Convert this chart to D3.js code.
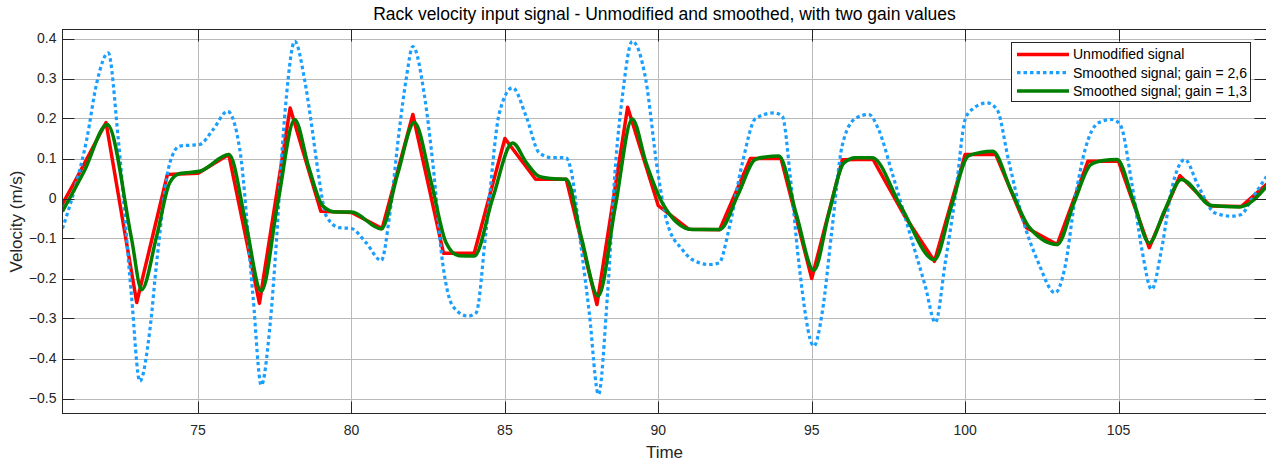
<!DOCTYPE html>
<html>
<head>
<meta charset="utf-8">
<script src="https://cdn.jsdelivr.net/npm/d3@7"></script>
<style>
  html, body { margin: 0; padding: 0; background: #fff; }
  svg { display: block; font-family: "Liberation Sans", Arial, Helvetica, sans-serif; }
</style>
</head>
<body>
<div id="chart"></div>
<script>
// unmodified signal, one sample per second
var rawTime = [70, 71, 72, 73, 74, 75, 76, 77, 78, 79, 80, 81, 82, 83, 84, 85, 86, 87, 88, 89, 90,
               91, 92, 93, 94, 95, 96, 97, 98, 99, 100, 101, 102, 103, 104, 105, 106, 107, 108, 109, 110];
var rawValue = [-0.095, 0.045, 0.19, -0.26, 0.06, 0.063, 0.11, -0.262, 0.226, -0.032, -0.035, -0.075, 0.21,
                -0.137, -0.137, 0.15, 0.048, 0.048, -0.265, 0.228, -0.018, -0.077, -0.078, 0.1, 0.1, -0.2,
                0.097, 0.098, -0.04, -0.157, 0.11, 0.11, -0.073, -0.115, 0.093, 0.093, -0.123, 0.057,
                -0.019, -0.02, 0.047];

// smoothed, gain = 1,3
var smoothLoTime = [70.58, 71.3, 72.04, 72.83, 73.16, 73.65, 74.08, 74.4, 75.05, 76.01, 76.55, 77.06, 77.6,
                    78.15, 78.6, 79.07, 79.5, 80, 80.97, 81.5, 82.05, 82.6, 83.08, 83.5, 84, 84.6, 85.25,
                    85.7, 86.1, 86.5, 87, 87.5, 88.04, 88.6, 89.15, 89.6, 90.13, 91.1, 92, 92.6, 93.16,
                    93.5, 93.93, 94.5, 95.07, 95.55, 96.05, 96.43, 96.97, 97.9, 99.0, 99.55, 100.1, 100.5,
                    100.9, 101.5, 102.1, 103.0, 103.55, 104.1, 104.5, 104.95, 105.5, 106.0, 106.5, 107.05,
                    108.03, 108.95, 109.82];
var smoothLoValue = [-0.032, 0.07, 0.185, -0.1, -0.228, -0.094, 0.04, 0.0625, 0.068, 0.11, -0.06, -0.232,
                     -0.01, 0.1975, 0.08, -0.019, -0.034, -0.034, -0.076, 0.06, 0.19, 0.04, -0.11, -0.143,
                     -0.144, 0.0, 0.139, 0.09, 0.056, 0.05, 0.048, -0.1, -0.244, -0.02, 0.199, 0.09,
                     -0.011, -0.0775, -0.0775, 0.01, 0.0975, 0.104, 0.106, -0.04, -0.18, -0.04, 0.089,
                     0.102, 0.102, -0.019, -0.153, -0.02, 0.106, 0.115, 0.118, 0.02, -0.073, -0.115,
                     -0.01, 0.085, 0.095, 0.0975, -0.01, -0.111, -0.03, 0.0475, -0.0175, -0.021, 0.03];

// smoothed, gain = 2,6
var smoothHiTime = [70.58, 71.0, 71.37, 71.7, 72.07, 72.4, 72.83, 73.1, 73.43, 73.65, 74.08, 74.4, 75.05,
                    75.49, 75.96, 76.36, 76.79, 77.06, 77.33, 77.55, 77.71, 77.88, 78.15, 78.47, 78.69,
                    78.9, 79.18, 79.61, 79.99, 80.48, 80.97, 81.24, 81.56, 81.78, 82.0, 82.38, 82.65,
                    82.97, 83.3, 83.79, 84.06, 84.39, 84.82, 85.25, 85.69, 86.12, 86.55, 86.99, 87.15,
                    87.48, 87.75, 88.05, 88.34, 88.61, 88.83, 89.15, 89.59, 89.97, 90.29, 90.78, 91.1,
                    91.65, 91.98, 92.3, 92.74, 93.17, 93.77, 94.04, 94.31, 94.58, 95.07, 95.34, 95.66,
                    95.99, 96.42, 96.86, 97.18, 97.62, 98.16, 98.7, 99.03, 99.35, 99.68, 100.0, 100.22,
                    100.71, 101.04, 101.41, 101.85, 102.39, 102.93, 103.26, 103.58, 103.91, 104.34,
                    104.78, 105.05, 105.43, 105.76, 106.08, 106.4, 106.73, 107.16, 107.6, 108.14,
                    108.68, 109.0, 109.33, 109.82];
var smoothHiValue = [-0.075, 0.03, 0.1475, 0.29, 0.364, 0.1475, -0.244, -0.457, -0.3275, -0.16, 0.089,
                     0.131, 0.135, 0.1725, 0.218, 0.1225, -0.244, -0.467, -0.328, -0.111, 0.089, 0.256,
                     0.393, 0.2975, 0.189, 0.0725, -0.044, -0.073, -0.075, -0.111, -0.155, -0.044,
                     0.1725, 0.2975, 0.38, 0.256, 0.089, -0.161, -0.269, -0.294, -0.286, -0.0775,
                     0.214, 0.277, 0.206, 0.114, 0.102, 0.102, 0.0725, -0.119, -0.286, -0.49, -0.244,
                     0.089, 0.256, 0.393, 0.2975, 0.0725, -0.061, -0.1275, -0.1525, -0.165, -0.161,
                     -0.0775, 0.089, 0.2, 0.214, 0.206, 0.0475, -0.161, -0.369, -0.286, -0.0775, 0.131,
                     0.2, 0.21, 0.1725, 0.064, -0.0775, -0.219, -0.31, -0.161, 0.006, 0.1975, 0.2225,
                     0.239, 0.2225, 0.0975, -0.044, -0.161, -0.236, -0.169, -0.0025, 0.1225, 0.189,
                     0.1975, 0.185, 0.039, -0.1275, -0.2275, -0.1275, 0.0225, 0.0975, 0.031, -0.036,
                     -0.044, -0.04, -0.0025, 0.055];

var xTicks = [75, 80, 85, 90, 95, 100, 105];
var yTicks = [-0.5, -0.4, -0.3, -0.2, -0.1, 0, 0.1, 0.2, 0.3, 0.4];
var seriesNames = ['Unmodified signal', 'Smoothed signal; gain = 2,6', 'Smoothed signal; gain = 1,3'];

(function () {
    var width = 1266, height = 463;
    var left = 62.5, right = 1266.5, top = 29.5, bottom = 413.5;
    var axisColor = '#262626', gridColor = '#b9b9b9', tickLen = 12;

    var svg = d3.select('#chart').append('svg')
        .attr('width', width)
        .attr('height', height);

    var x = d3.scaleLinear().domain([70.581, 109.822]).range([left, right]);
    var y = d3.scaleLinear().domain([-0.5375, 0.4225]).range([bottom, top]);

    svg.append('defs').append('clipPath').attr('id', 'plot-clip')
        .append('rect')
        .attr('x', left).attr('y', top)
        .attr('width', right - left).attr('height', bottom - top);

    // grid
    var grid = svg.append('g');
    grid.selectAll('line.gx').data(xTicks).enter().append('line')
        .attr('x1', function (d) { return Math.round(x(d)) + 0.5; })
        .attr('x2', function (d) { return Math.round(x(d)) + 0.5; })
        .attr('y1', top).attr('y2', bottom)
        .attr('stroke', gridColor);
    grid.selectAll('line.gy').data(yTicks).enter().append('line')
        .attr('y1', function (d) { return Math.round(y(d)) + 0.5; })
        .attr('y2', function (d) { return Math.round(y(d)) + 0.5; })
        .attr('x1', left).attr('x2', right)
        .attr('stroke', gridColor);

    // series
    function toPoints(t, v) {
        return t.map(function (d, i) { return [d, v[i]]; });
    }
    var plot = svg.append('g').attr('clip-path', 'url(#plot-clip)');

    var straight = d3.line()
        .x(function (d) { return x(d[0]); })
        .y(function (d) { return y(d[1]); });
    var smooth = d3.line()
        .x(function (d) { return x(d[0]); })
        .y(function (d) { return y(d[1]); })
        .curve(d3.curveMonotoneX);

    plot.append('path')
        .datum(toPoints(rawTime, rawValue))
        .attr('d', straight)
        .attr('fill', 'none')
        .attr('stroke', '#ff0000')
        .attr('stroke-width', 3.5)
        .attr('stroke-linejoin', 'round');

    plot.append('path')
        .datum(toPoints(smoothHiTime, smoothHiValue))
        .attr('d', smooth)
        .attr('fill', 'none')
        .attr('stroke', '#1a9fff')
        .attr('stroke-width', 3.2)
        .attr('stroke-dasharray', '3.5,3');

    plot.append('path')
        .datum(toPoints(smoothLoTime, smoothLoValue))
        .attr('d', smooth)
        .attr('fill', 'none')
        .attr('stroke', '#008000')
        .attr('stroke-width', 3.5)
        .attr('stroke-linejoin', 'round');

    // axes box with inward ticks on all sides
    var box = svg.append('g').attr('stroke', axisColor).attr('fill', 'none');
    box.append('rect')
        .attr('x', left).attr('y', top)
        .attr('width', right - left).attr('height', bottom - top);
    xTicks.forEach(function (d) {
        var px = Math.round(x(d)) + 0.5;
        box.append('line').attr('x1', px).attr('x2', px).attr('y1', bottom).attr('y2', bottom - tickLen);
        box.append('line').attr('x1', px).attr('x2', px).attr('y1', top).attr('y2', top + tickLen);
    });
    yTicks.forEach(function (d) {
        var py = Math.round(y(d)) + 0.5;
        box.append('line').attr('y1', py).attr('y2', py).attr('x1', left).attr('x2', left + tickLen);
        box.append('line').attr('y1', py).attr('y2', py).attr('x1', right).attr('x2', right - tickLen);
    });

    // tick labels
    var fmt = d3.format('.1f');
    svg.selectAll('text.xt').data(xTicks).enter().append('text')
        .attr('x', function (d) { return x(d); })
        .attr('y', 435)
        .attr('text-anchor', 'middle')
        .attr('font-size', 14)
        .attr('fill', axisColor)
        .text(function (d) { return d; });
    svg.selectAll('text.yt').data(yTicks).enter().append('text')
        .attr('x', left - 6)
        .attr('y', function (d) { return y(d); })
        .attr('dy', '0.35em')
        .attr('text-anchor', 'end')
        .attr('font-size', 14)
        .attr('fill', axisColor)
        .text(function (d) { return d === 0 ? '0' : fmt(d); });

    // title and axis labels
    svg.append('text')
        .attr('x', (left + right) / 2).attr('y', 20)
        .attr('text-anchor', 'middle')
        .attr('font-size', 17.5)
        .attr('fill', '#000')
        .text('Rack velocity input signal - Unmodified and smoothed, with two gain values');
    svg.append('text')
        .attr('x', (left + right) / 2).attr('y', 458)
        .attr('text-anchor', 'middle')
        .attr('font-size', 17)
        .attr('fill', axisColor)
        .text('Time');
    svg.append('text')
        .attr('transform', 'translate(22,' + ((top + bottom) / 2) + ') rotate(-90)')
        .attr('text-anchor', 'middle')
        .attr('font-size', 17)
        .attr('fill', axisColor)
        .text('Velocity (m/s)');

    // legend
    var legend = svg.append('g');
    legend.append('rect')
        .attr('x', 1011.5).attr('y', 42.5)
        .attr('width', 239).attr('height', 59)
        .attr('fill', '#fff')
        .attr('stroke', axisColor);
    var styles = [
        { color: '#ff0000', dash: null, w: 3.5 },
        { color: '#1a9fff', dash: '3.5,3', w: 3.2 },
        { color: '#008000', dash: null, w: 3.5 }
    ];
    seriesNames.forEach(function (name, i) {
        var ly = 54.5 + i * 18.2;
        legend.append('line')
            .attr('x1', 1017).attr('x2', 1069)
            .attr('y1', ly).attr('y2', ly)
            .attr('stroke', styles[i].color)
            .attr('stroke-width', styles[i].w)
            .attr('stroke-dasharray', styles[i].dash);
        legend.append('text')
            .attr('x', 1073).attr('y', ly)
            .attr('dy', '0.35em')
            .attr('font-size', 14)
            .attr('fill', '#000')
            .text(name);
    });
})();
</script>
</body>
</html>
